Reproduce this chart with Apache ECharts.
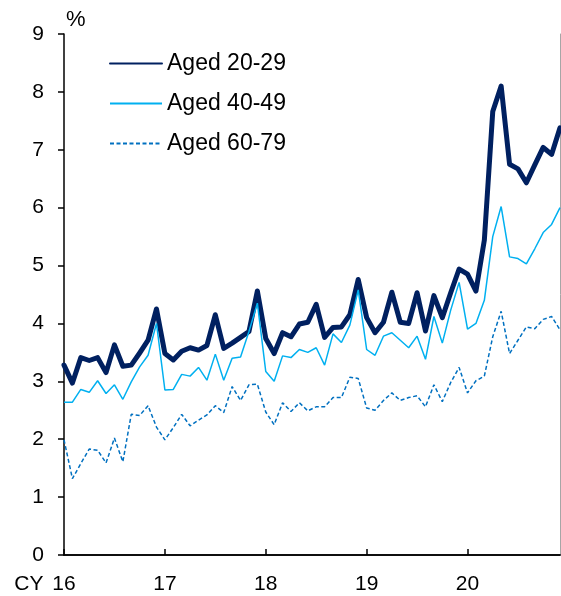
<!DOCTYPE html>
<html>
<head>
<meta charset="utf-8">
<script src="https://cdn.jsdelivr.net/npm/echarts@6/dist/echarts.min.js"></script>
<style>
  html, body { margin: 0; padding: 0; background: #fff; }
  #chart { width: 561px; height: 596px; }
</style>
</head>
<body>
<div id="chart"></div>
<script>
// Monthly series, January 2016 to December 2020 (per cent)
const years = [2016, 2017, 2018, 2019, 2020];
const yearLabels = ['16', '17', '18', '19', '20'];

const aged2029 = [
  3.28, 2.97, 3.41, 3.36, 3.41, 3.15, 3.63, 3.26, 3.28, 3.49, 3.71, 4.25,
  3.48, 3.37, 3.52, 3.58, 3.54, 3.62, 4.15, 3.57, 3.66, 3.76, 3.86, 4.56,
  3.74, 3.48, 3.84, 3.77, 3.99, 4.02, 4.33, 3.76, 3.93, 3.94, 4.15, 4.76,
  4.10, 3.84, 4.02, 4.54, 4.02, 4.00, 4.53, 3.87, 4.48, 4.10, 4.53, 4.94,
  4.85, 4.56, 5.44, 7.66, 8.10, 6.75, 6.67, 6.43, 6.74, 7.04, 6.92, 7.38
];
const aged4049 = [
  2.64, 2.64, 2.86, 2.81, 3.01, 2.79, 2.94, 2.69, 2.99, 3.25, 3.45, 4.00,
  2.85, 2.86, 3.12, 3.09, 3.24, 3.02, 3.47, 3.02, 3.40, 3.42, 3.86, 4.35,
  3.17, 3.00, 3.44, 3.41, 3.55, 3.50, 3.58, 3.28, 3.82, 3.67, 3.97, 4.58,
  3.55, 3.45, 3.78, 3.84, 3.71, 3.58, 3.78, 3.38, 4.12, 3.66, 4.23, 4.71,
  3.90, 4.00, 4.40, 5.50, 6.02, 5.15, 5.12, 5.03, 5.29, 5.57, 5.71, 6.00
];
const aged6079 = [
  1.99, 1.32, 1.58, 1.83, 1.81, 1.59, 2.02, 1.61, 2.43, 2.41, 2.58, 2.21,
  1.99, 2.20, 2.43, 2.23, 2.33, 2.42, 2.58, 2.46, 2.91, 2.67, 2.94, 2.95,
  2.47, 2.25, 2.63, 2.48, 2.63, 2.49, 2.56, 2.56, 2.72, 2.72, 3.07, 3.05,
  2.54, 2.50, 2.67, 2.80, 2.67, 2.72, 2.75, 2.56, 2.94, 2.65, 2.98, 3.24,
  2.80, 3.01, 3.09, 3.77, 4.21, 3.48, 3.71, 3.94, 3.91, 4.07, 4.12, 3.89
];

// One category per month
const months = [];
years.forEach(y => {
  for (let m = 1; m <= 12; m++) months.push(y + '-' + String(m).padStart(2, '0'));
});

const FONT = "'Liberation Sans', Arial, sans-serif";
const isYearStart = i => i % 12 === 0;

const chart = echarts.init(document.getElementById('chart'), null, { renderer: 'canvas' });

chart.setOption({
  animation: false,
  backgroundColor: '#ffffff',
  textStyle: { fontFamily: FONT, color: '#000' },
  grid: { left: 64, right: 1, top: 34, bottom: 41, containLabel: false },
  legend: {
    orient: 'vertical',
    left: 109,
    top: 52,
    padding: 0,
    itemWidth: 52,
    itemHeight: 14,
    itemGap: 17,
    selectedMode: false,
    itemStyle: { opacity: 0 },
    textStyle: { fontFamily: FONT, fontSize: 23, color: '#000' },
    data: ['Aged 20-29', 'Aged 40-49', 'Aged 60-79']
  },
  xAxis: [
    {
      type: 'category',
      data: months,
      boundaryGap: false,
      axisLine: { lineStyle: { color: '#000', width: 1.5 } },
      axisTick: { inside: true, length: 6, interval: isYearStart, lineStyle: { color: '#000', width: 1.5 } },
      axisLabel: {
        interval: isYearStart,
        margin: 19,
        fontSize: 21,
        fontFamily: FONT,
        color: '#000',
        formatter: (val, idx) => idx === 0 ? '{cy|CY}' + yearLabels[0] + '{pad|}' : yearLabels[idx / 12],
        rich: {
          cy: { width: 47, fontSize: 21, fontFamily: FONT, color: '#000' },
          pad: { width: 47 }
        }
      },
      splitLine: { show: false }
    },
    {
      // top edge of the plot frame
      type: 'category',
      data: months,
      boundaryGap: false,
      position: 'top',
      axisLine: { lineStyle: { color: '#000', width: 1.5 } },
      axisTick: { show: false },
      axisLabel: { show: false },
      splitLine: { show: false }
    }
  ],
  yAxis: [
    {
      type: 'value',
      min: 0,
      max: 9,
      interval: 1,
      name: '%',
      nameLocation: 'end',
      nameGap: 3,
      nameTextStyle: { fontFamily: FONT, fontSize: 22, color: '#000', align: 'left', padding: [0, 0, 0, 2] },
      axisLine: { show: true, lineStyle: { color: '#000', width: 1.5 } },
      axisTick: { show: true, inside: false, length: 6, lineStyle: { color: '#000', width: 1.5 } },
      axisLabel: { margin: 20, fontSize: 21, fontFamily: FONT, color: '#000' },
      splitLine: { show: false }
    },
    {
      // right edge of the plot frame
      type: 'value',
      min: 0,
      max: 9,
      interval: 1,
      position: 'right',
      axisLine: { show: true, lineStyle: { color: '#a6a6a6', width: 1 } },
      axisTick: { show: false },
      axisLabel: { show: false },
      splitLine: { show: false }
    }
  ],
  series: [
    {
      name: 'Aged 20-29',
      type: 'line',
      data: aged2029,
      symbol: 'none',
      color: '#002060',
      lineStyle: { color: '#002060', width: 5, cap: 'round', join: 'round' }
    },
    {
      name: 'Aged 40-49',
      type: 'line',
      data: aged4049,
      symbol: 'none',
      color: '#00b0f0',
      lineStyle: { color: '#00b0f0', width: 1.5 }
    },
    {
      name: 'Aged 60-79',
      type: 'line',
      data: aged6079,
      symbol: 'none',
      color: '#0070c0',
      lineStyle: { color: '#0070c0', width: 1.5, type: [4, 2.5] }
    }
  ]
});
</script>
</body>
</html>
